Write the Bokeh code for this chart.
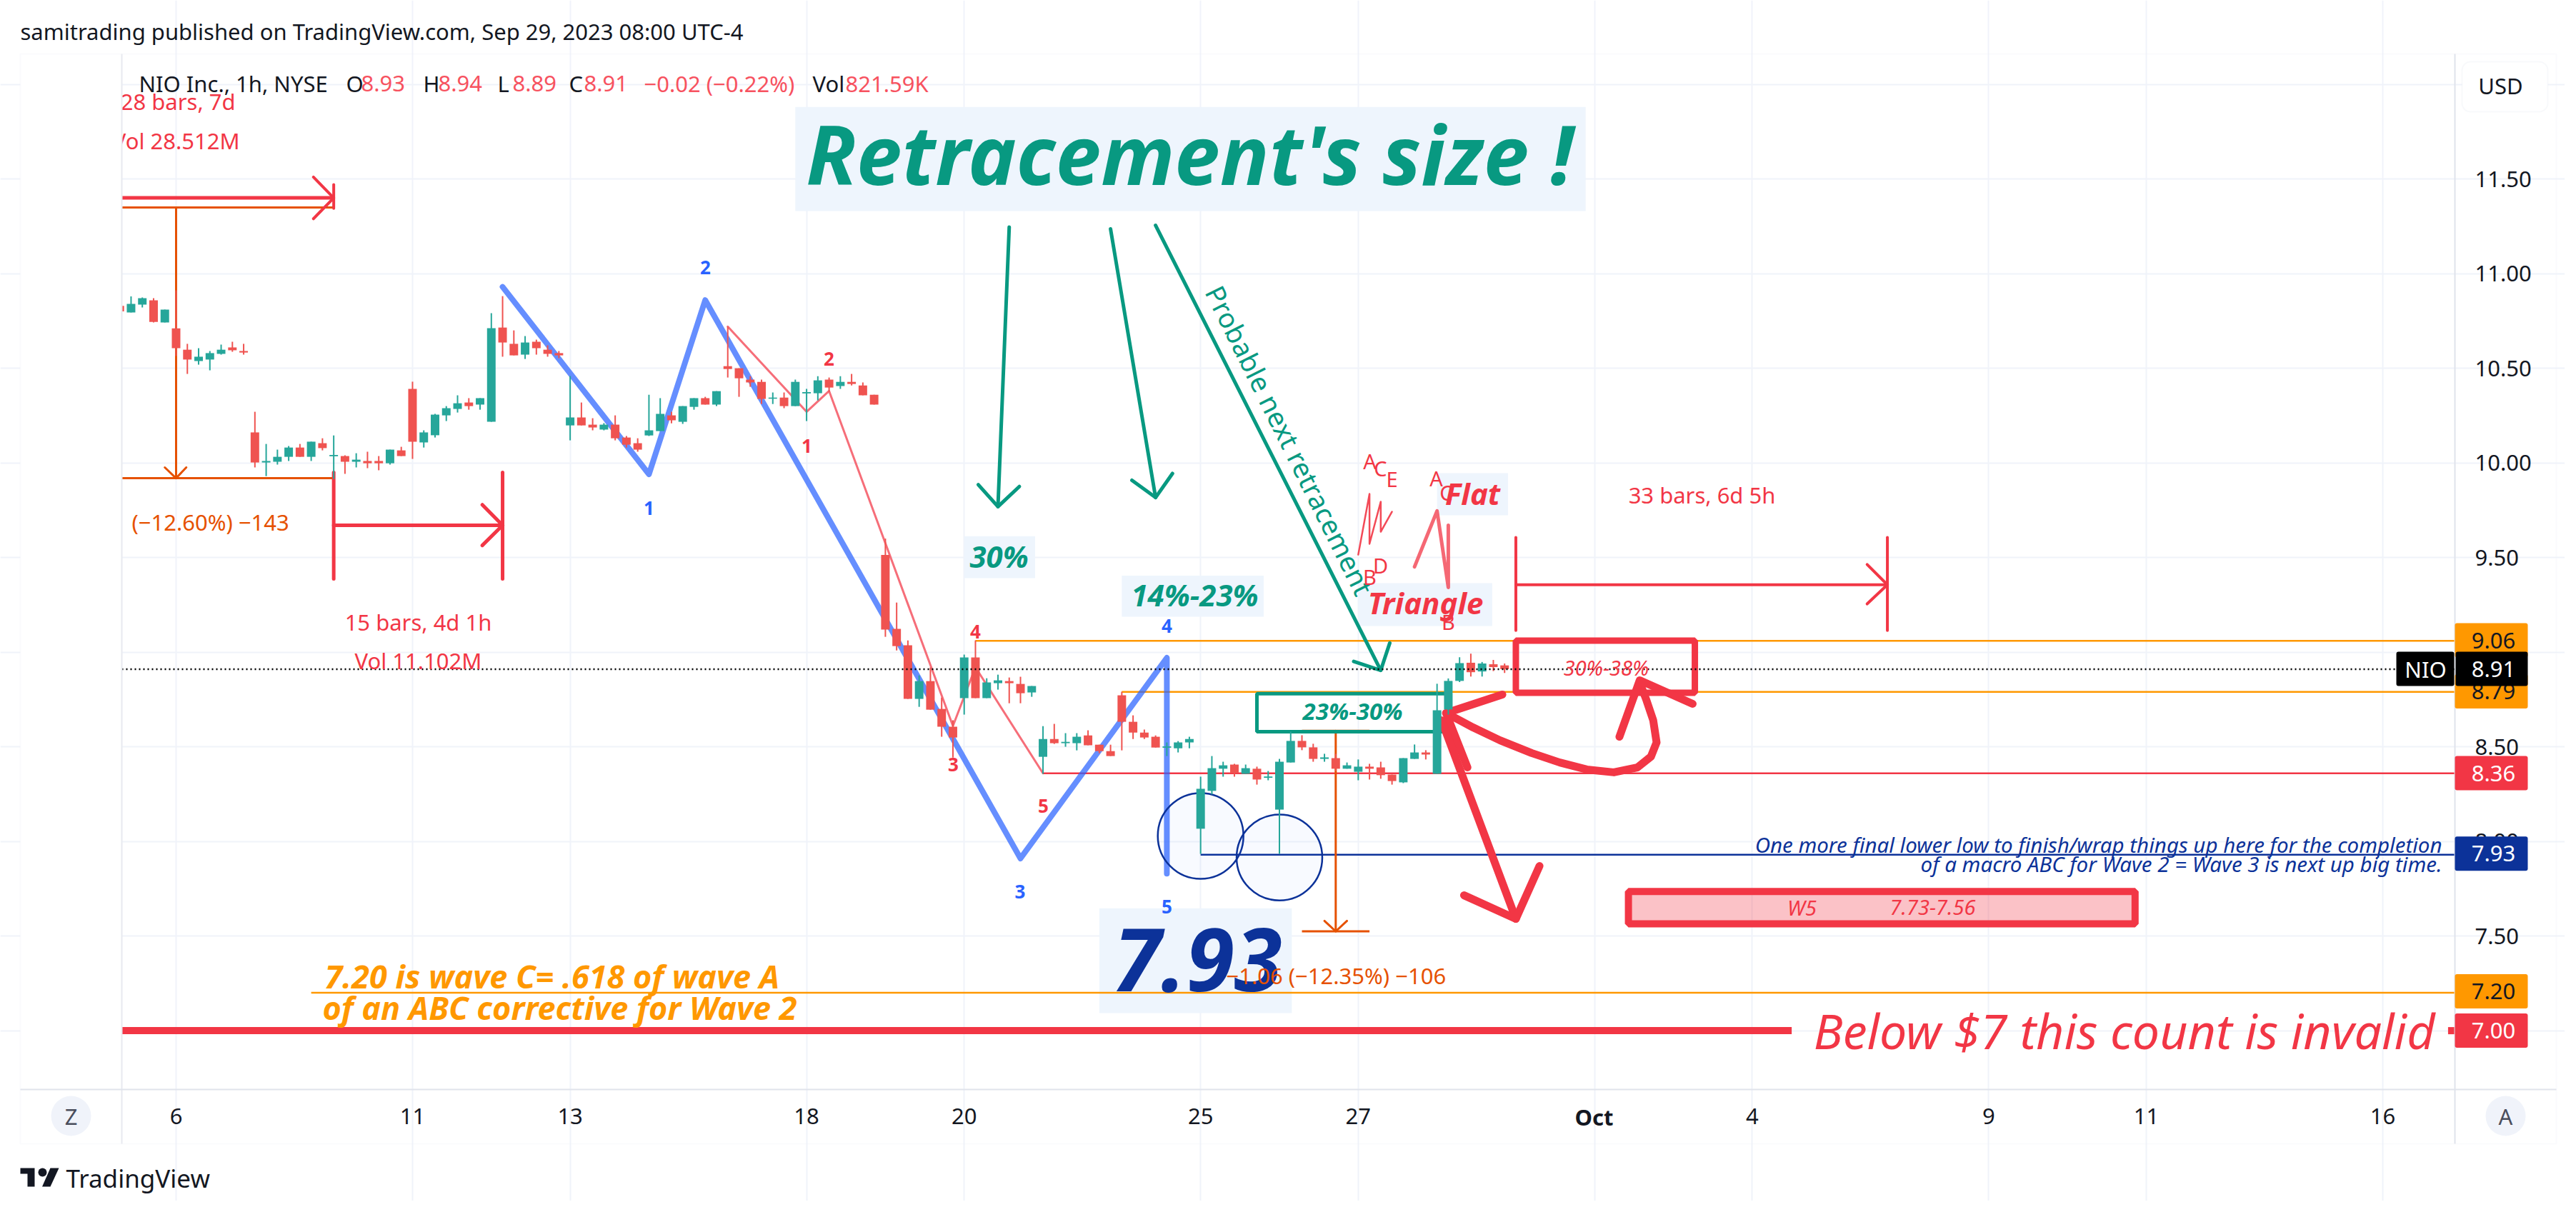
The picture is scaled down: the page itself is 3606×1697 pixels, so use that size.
from bokeh.core.properties import value
from bokeh.embed import file_html
from bokeh.models import BoxAnnotation, FixedTicker, Label, PolyAnnotation, Range1d
from bokeh.plotting import figure
from bokeh.resources import INLINE

# ─── candles (1h bars, x is the bar number counted from the Sep 6 tick) ─────
first_bar = -5
bar_open = [
    10.83, 10.795, 10.836, 10.859, 10.742, 10.711, 10.598, 10.538, 10.546, 10.576, 10.61, 10.591,
    10.161, 10.002, 10.006, 10.032, 10.081, 10.032, 10.104, 10.035, 10.036, 10.006, 10.01, 10.01,
    9.998, 10.066, 10.391, 10.108, 10.146, 10.251, 10.285, 10.319, 10.308, 10.217, 10.715, 10.629,
    10.572, 10.64, 10.598, 10.58, 10.198, 10.24, 10.202, 10.176, 10.202, 10.134, 10.104, 10.145,
    10.168, 10.251, 10.217, 10.296, 10.342, 10.308, 10.511, 10.5, 10.44, 10.428, 10.339, 10.345,
    10.3, 10.367, 10.368, 10.44, 10.406, 10.428, 10.409, 10.36, 9.514, 9.123, 9.036, 8.753,
    8.847, 8.7, 8.606, 8.757, 8.972, 8.757, 8.836, 8.847, 8.832, 8.787, 8.447, 8.541,
    8.519, 8.519, 8.56, 8.511, 8.477, 8.772, 8.632, 8.575, 8.553, 8.495, 8.492, 8.523,
    8.067, 8.267, 8.384, 8.406, 8.357, 8.384, 8.336, 8.168, 8.417, 8.531, 8.497, 8.436,
    8.44, 8.384, 8.368, 8.395, 8.391, 8.353, 8.312, 8.436, 8.47, 8.357, 8.697, 8.848,
    8.944, 8.898, 8.936, 8.93,
]
bar_close = [
    10.80, 10.84, 10.87, 10.745, 10.81, 10.606, 10.546, 10.561, 10.58, 10.598, 10.595, 10.583,
    10.002, 10.01, 10.032, 10.081, 10.032, 10.112, 10.078, 10.042, 10.006, 10.017, 9.998, 9.998,
    10.07, 10.036, 10.112, 10.161, 10.255, 10.289, 10.315, 10.30, 10.342, 10.712, 10.636, 10.568,
    10.636, 10.606, 10.576, 10.568, 10.24, 10.198, 10.187, 10.202, 10.13, 10.096, 10.07, 10.172,
    10.259, 10.225, 10.30, 10.342, 10.308, 10.379, 10.496, 10.447, 10.425, 10.338, 10.345, 10.30,
    10.428, 10.374, 10.436, 10.398, 10.428, 10.417, 10.357, 10.308, 9.119, 9.032, 8.753, 8.847,
    8.696, 8.606, 8.549, 8.972, 8.757, 8.84, 8.851, 8.836, 8.783, 8.821, 8.541, 8.519,
    8.526, 8.553, 8.508, 8.477, 8.451, 8.632, 8.575, 8.549, 8.496, 8.502, 8.523, 8.541,
    8.278, 8.387, 8.402, 8.361, 8.387, 8.327, 8.343, 8.421, 8.531, 8.497, 8.436, 8.444,
    8.384, 8.402, 8.395, 8.384, 8.35, 8.319, 8.44, 8.47, 8.459, 8.693, 8.848, 8.942,
    8.894, 8.94, 8.921, 8.91,
]
bar_high = [
    10.83, 10.88, 10.874, 10.87, 10.81, 10.912, 10.629, 10.606, 10.591, 10.625, 10.64, 10.629,
    10.27, 10.10, 10.07, 10.089, 10.10, 10.112, 10.13, 10.145, 10.04, 10.051, 10.059, 10.036,
    10.07, 10.085, 10.429, 10.172, 10.259, 10.30, 10.357, 10.342, 10.342, 10.791, 10.881, 10.70,
    10.67, 10.651, 10.621, 10.591, 10.459, 10.319, 10.236, 10.21, 10.251, 10.142, 10.13, 10.36,
    10.342, 10.27, 10.30, 10.342, 10.349, 10.379, 10.719, 10.50, 10.458, 10.44, 10.372, 10.372,
    10.44, 10.391, 10.458, 10.451, 10.458, 10.47, 10.425, 10.36, 9.60, 9.262, 9.062, 8.877,
    8.919, 8.76, 8.64, 8.987, 9.062, 8.862, 8.881, 8.866, 8.87, 8.821, 8.609, 8.621,
    8.572, 8.572, 8.587, 8.511, 8.511, 8.791, 8.666, 8.591, 8.56, 8.523, 8.53, 8.553,
    8.342, 8.451, 8.421, 8.41, 8.406, 8.395, 8.372, 8.436, 8.58, 8.561, 8.516, 8.463,
    8.463, 8.417, 8.433, 8.41, 8.421, 8.353, 8.44, 8.512, 8.482, 8.833, 8.861, 8.973,
    8.992, 8.948, 8.959, 8.94,
]
bar_low = [
    10.80, 10.795, 10.821, 10.742, 10.742, 10.565, 10.47, 10.519, 10.489, 10.572, 10.587, 10.572,
    9.976, 9.93, 9.991, 10.01, 10.032, 10.01, 10.066, 9.915, 9.942, 9.976, 9.972, 9.961,
    9.991, 10.036, 10.021, 10.081, 10.134, 10.221, 10.266, 10.281, 10.281, 10.217, 10.561, 10.568,
    10.549, 10.572, 10.561, 10.553, 10.119, 10.198, 10.172, 10.172, 10.119, 10.081, 10.059, 10.142,
    10.168, 10.209, 10.206, 10.281, 10.308, 10.30, 10.451, 10.349, 10.402, 10.311, 10.311, 10.289,
    10.30, 10.221, 10.33, 10.375, 10.391, 10.409, 10.357, 10.308, 9.081, 9.009, 8.753, 8.711,
    8.696, 8.553, 8.443, 8.67, 8.757, 8.757, 8.802, 8.73, 8.73, 8.764, 8.357, 8.515,
    8.50, 8.481, 8.508, 8.466, 8.451, 8.481, 8.541, 8.541, 8.496, 8.451, 8.47, 8.492,
    7.934, 8.248, 8.342, 8.342, 8.357, 8.30, 8.323, 7.934, 8.417, 8.482, 8.421, 8.421,
    8.372, 8.384, 8.323, 8.327, 8.331, 8.30, 8.308, 8.436, 8.433, 8.357, 8.67, 8.842,
    8.871, 8.871, 8.90, 8.89,
]

# ─── axes ───────────────────────────────────────────────────────────────────
time_ticks = [0, 21, 35, 56, 70, 91, 105, 126, 140, 161, 175, 196]
time_labels = ["6", "11", "13", "18", "20", "25", "27", "", "4", "9", "11", "16"]
price_ticks = [7.0, 7.5, 8.0, 8.5, 9.0, 9.5, 10.0, 10.5, 11.0, 11.5, 12.0]
price_labels = ["7.00", "7.50", "8.00", "8.50", "9.00", "9.50", "10.00", "10.50", "11.00", "11.50", ""]

# ─── drawings, as (bar, price) anchors ──────────────────────────────────────
blue_wave_x = [29, 42, 47, 75, 88, 88]
blue_wave_y = [10.93, 9.94, 10.86, 7.91, 8.97, 7.83]
red_wave_x = [49, 56, 58, 69, 71, 77]
red_wave_y = [10.72, 10.27, 10.38, 8.61, 8.92, 8.36]
triangle_x = [105, 106, 106, 107, 107, 108]
triangle_y = [9.515, 9.836, 9.572, 9.795, 9.636, 9.742]
flat_x = [110, 112, 113, 113]
flat_y = [9.451, 9.746, 9.342, 9.67]
curve_x = [112.8, 115.2, 117.6, 120.4, 122.9, 125.3, 127.7, 129.8, 131, 131.5, 131.2, 130.6, 130]
curve_y = [8.678, 8.602, 8.534, 8.467, 8.417, 8.38, 8.365, 8.391, 8.448, 8.523, 8.64, 8.746, 8.84]

RED, TEAL, GREEN = "#ef5350", "#26a69a", "#089981"
DRAW_RED, ORANGE, NAVY = "#f23645", "#ff9800", "#0c3299"
MEASURE, INK, PALE = "#e65100", "#131722", "#eef5fd"

W, H = 3590, 1681
# page pixels of the chart pane, the price scale and the time scale
FRAME_L, FRAME_R, FRAME_T, FRAME_B = 170, 3436, 75, 1525
OUTER_L, OUTER_R, OUTER_B = 28, 3578, 1601
# the same pane edges on the bar and price scales
BAR_L, BAR_R, PRICE_B, PRICE_T = -4.822, 202.41, 6.6883, 12.1608

# the frame fills the whole canvas so the scales and badges can be drawn anywhere
p = figure(
    width=W, height=H, output_backend="svg", toolbar_location=None, tools="",
    x_range=Range1d(-15.609, 212.18), y_range=Range1d(6.1004, 12.4438),
    y_axis_location="right",
    min_border_left=0, min_border_right=0, min_border_top=0, min_border_bottom=0,
)
p.outline_line_color = None
p.background_fill_color = "white"
p.border_fill_color = "white"

for ax, ticks, labels in ((p.xaxis[0], time_ticks, time_labels), (p.yaxis[0], price_ticks, price_labels)):
    ax.ticker = FixedTicker(ticks=ticks)
    ax.major_label_overrides = dict(zip(ticks, labels))
    ax.axis_line_color = None
    ax.major_tick_line_color = None
    ax.minor_tick_line_color = None
    ax.major_label_text_font = "Noto Sans"
    ax.major_label_text_font_size = "31px"
    ax.major_label_text_color = INK
p.xaxis[0].fixed_location = PRICE_B
p.yaxis[0].fixed_location = BAR_R
p.xaxis[0].major_label_standoff = 20
p.yaxis[0].major_label_standoff = 22

for g in (p.xgrid[0], p.ygrid[0]):
    g.grid_line_color = "#f0f3fa"
    g.grid_line_width = 2
p.xgrid[0].ticker = FixedTicker(ticks=time_ticks)
p.ygrid[0].ticker = FixedTicker(ticks=price_ticks)
p.xgrid[0].bounds = (PRICE_B, PRICE_T)
p.ygrid[0].bounds = (BAR_L, BAR_R)


def stroke(xs, ys, color, width, alpha=1.0, dash="solid"):
    p.line(xs, ys, line_color=color, line_width=width, line_alpha=alpha, line_cap="round",
           line_join="round", line_dash=dash)


def flat_line(x0, x1, price, color, width):
    p.line([x0, x1], [price, price], line_color=color, line_width=width)


def panel(left, right, bottom, top, color=PALE):
    p.quad(left=[left], right=[right], bottom=[bottom], top=[top], fill_color=color, line_color=None)


# text backgrounds
panel(55.0, 125.2, 11.331, 11.881)
panel(70, 76.3, 9.391, 9.613)
panel(84, 96.6, 9.187, 9.404)
panel(105, 116.9, 9.138, 9.365)
panel(112, 118.3, 9.723, 9.946)
panel(82, 99.1, 7.093, 7.647)

# level lines
flat_line(71, BAR_R, 9.06, ORANGE, 2.5)
flat_line(84, BAR_R, 8.79, ORANGE, 2.5)
flat_line(77, BAR_R, 8.36, DRAW_RED, 2.5)
flat_line(91, BAR_R, 7.93, NAVY, 2.5)
flat_line(12, BAR_R, 7.20, ORANGE, 2.5)
flat_line(BAR_L, 143.5, 7.0, DRAW_RED, 10)
flat_line(201.8, BAR_R, 7.0, DRAW_RED, 10)

# elliott waves
stroke(blue_wave_x, blue_wave_y, "#2962ff", 8, 0.72)
stroke(red_wave_x, red_wave_y, DRAW_RED, 3, 0.72)

# price range tool on the left
flat_line(BAR_L, 14, 11.349, MEASURE, 3)
flat_line(BAR_L, 14, 9.919, MEASURE, 3)
stroke([0, 0], [11.349, 9.919], MEASURE, 3)
stroke([-1, 0, 0.9], [9.976, 9.919, 9.976], MEASURE, 3)

# date range tool, top left
flat_line(BAR_L, 14, 11.40, DRAW_RED, 5)
stroke([14, 14], [11.47, 11.345], DRAW_RED, 4)
stroke([12.2, 14, 12.2], [11.51, 11.40, 11.29], DRAW_RED, 4)

# date range tool, 15 bars
stroke([14, 14], [9.949, 9.387], DRAW_RED, 5)
stroke([29, 29], [9.949, 9.387], DRAW_RED, 5)
stroke([14, 29], [9.67, 9.67], DRAW_RED, 5)
stroke([27.2, 29, 27.2], [9.779, 9.67, 9.564], DRAW_RED, 5)

# date range tool, 33 bars
stroke([119, 119], [9.606, 9.115], DRAW_RED, 4)
stroke([152, 152], [9.606, 9.115], DRAW_RED, 4)
stroke([119, 152], [9.356, 9.356], DRAW_RED, 4)
stroke([150.2, 152, 150.2], [9.463, 9.356, 9.255], DRAW_RED, 4)

# price range tool at the bottom
flat_line(100, 106, 8.584, MEASURE, 3)
flat_line(100, 106, 7.525, MEASURE, 3)
stroke([103, 103], [8.584, 7.525], MEASURE, 3)
stroke([102, 103, 104], [7.58, 7.525, 7.58], MEASURE, 3)

# green retracement arrows
stroke([74, 73], [11.246, 9.769], GREEN, 5)
stroke([71.25, 73, 74.9], [9.885, 9.769, 9.875], GREEN, 5)
stroke([83, 87], [11.236, 9.817], GREEN, 5)
stroke([84.9, 87, 88.5], [9.908, 9.817, 9.944], GREEN, 5)
stroke([87, 107], [11.255, 8.904], GREEN, 5)
stroke([104.6, 107, 107.8], [8.951, 8.904, 9.048], GREEN, 5)

# retracement boxes
p.quad(left=[96], right=[113.2], bottom=[8.58], top=[8.781], fill_color=None,
       line_color=GREEN, line_width=5)
p.quad(left=[119], right=[134.9], bottom=[8.785], top=[9.061], fill_color=None,
       line_color=DRAW_RED, line_width=9)
p.quad(left=[129], right=[174], bottom=[7.565], top=[7.735], fill_color=DRAW_RED, fill_alpha=0.3,
       line_color=DRAW_RED, line_width=10)

# circles on the two lows
p.ellipse(x=[91, 98], y=[8.029, 7.915], width=7.61, height=0.453, fill_color="#2962ff", fill_alpha=0.03,
          line_color=NAVY, line_width=2.5)

# hand drawn zigzags and arrows
stroke(triangle_x, triangle_y, DRAW_RED, 2.5, 0.9)
stroke(flat_x, flat_y, DRAW_RED, 5, 0.75)
stroke(curve_x, curve_y, DRAW_RED, 11)
stroke([117.8, 112.8, 114.7], [8.776, 8.678, 8.391], DRAW_RED, 11)
stroke([128.2, 130, 134.7], [8.553, 8.851, 8.727], DRAW_RED, 11)
stroke([112.4, 119], [8.64, 7.591], DRAW_RED, 11)
stroke([114.4, 119, 121.1], [7.715, 7.591, 7.87], DRAW_RED, 11)

# candles sit over the drawings
bar_x = [first_bar + i for i in range(len(bar_open))]
bar_colors = [TEAL if c >= o else RED for o, c in zip(bar_open, bar_close)]
p.segment(bar_x, bar_low, bar_x, bar_high, line_color=bar_colors, line_width=2)
p.vbar(x=bar_x, bottom=bar_open, top=bar_close, width=0.76, fill_color=bar_colors, line_color=None)

# last price line
p.line([BAR_L, BAR_R], [8.91, 8.91], line_color="black", line_width=2.5, line_dash="2 4", level="annotation")

# these two run off the left of the pane, the white strip below hides the overhang
p.text([5.27, 5.65], [11.908, 11.704], text=["28 bars, 7d", "Vol 28.512M"], text_color=DRAW_RED,
       text_font_size="31px", text_align="right", text_baseline="middle", text_font=value("Noto Sans"))


def txt(px, py, s, color=INK, size=31, align="center", style="normal", angle=0.0, level="annotation"):
    p.add_layout(Label(x=px, y=H - py, x_units="screen", y_units="screen", text=s,
                       text_color=color, text_font="Noto Sans", text_font_size=f"{size}px",
                       text_font_style=style, text_align=align, text_baseline="middle",
                       angle=angle, level=level))


def chrome(l, t, r, b, fill, line=None, radius=0):
    p.add_layout(BoxAnnotation(left=l, right=r, top=H - t, bottom=H - b,
                               left_units="screen", right_units="screen", top_units="screen",
                               bottom_units="screen", fill_color=fill, fill_alpha=1 if fill else 0,
                               line_color=line, line_width=2 if line else 0, border_radius=radius,
                               level="overlay", editable=False))


# frame and scales
chrome(OUTER_L, FRAME_T, FRAME_L, FRAME_B, "white")
chrome(OUTER_L, FRAME_T, OUTER_R, OUTER_B, None, "#f0f3fa")
chrome(FRAME_L - 1, FRAME_T, FRAME_L + 1, OUTER_B, "#e8eaf0")
chrome(FRAME_R - 1, FRAME_T, FRAME_R + 1, OUTER_B, "#e0e3eb")
chrome(OUTER_L, FRAME_B - 1, OUTER_R, FRAME_B + 1, "#e0e3eb")
chrome(3446, 86, 3566, 156, "white", "#e9ecf2", 12)
txt(3500, 119, "USD", level="overlay")
chrome(71, 1534, 127, 1590, "#f0f3fa", None, 28)
txt(99, 1562, "Z", "#4a4e5c", level="overlay")
chrome(3479, 1534, 3535, 1590, "#f0f3fa", None, 28)
txt(3507, 1562, "A", "#4a4e5c", level="overlay")
txt(2231, 1563, "Oct", style="bold", level="overlay")

# price badges
for price_y, s, fill, fg in (
    (896, "9.06", ORANGE, INK), (967.6, "8.79", ORANGE, INK), (1082, "8.36", DRAW_RED, "white"),
    (1194.7, "7.93", NAVY, "white"), (1387.5, "7.20", ORANGE, INK), (1442.6, "7.00", DRAW_RED, "white"),
):
    chrome(FRAME_R, price_y - 24, 3538, price_y + 24, fill, None, 3)
    txt(3490, price_y, s, fg, level="overlay")
chrome(3354, 912, FRAME_R - 1, 960, "black", None, 3)
chrome(FRAME_R + 1, 912, 3538, 960, "black", None, 3)
txt(3395, 936, "NIO", "white", level="overlay")
txt(3490, 936, "8.91", "white", level="overlay")

# header
txt(28, 43, "samitrading published on TradingView.com, Sep 29, 2023 08:00 UTC-4", align="left")
txt(194, 116, "NIO Inc., 1h, NYSE", align="left", level="overlay")
VAL = "#f7525f"
for px, head, val in ((484, "O", "8.93"), (592, "H", "8.94"), (696, "L", "8.89"), (796, "C", "8.91")):
    txt(px, 116, head, align="left")
    txt(px + 21, 116, val, VAL, align="left")
txt(901, 116, "\u22120.02 (\u22120.22%)", VAL, align="left")
txt(1137, 116, "Vol", align="left")
txt(1183, 116, "821.59K", VAL, align="left")

# footer logo
for xs, ys in (([28, 48, 48, 38, 38, 28], [1635, 1635, 1661, 1661, 1643, 1643]),
               ([70, 82, 70, 58.5], [1635, 1635, 1661, 1661])):
    p.add_layout(PolyAnnotation(xs=xs, ys=[H - y for y in ys],
                                xs_units="screen", ys_units="screen", fill_color=INK, fill_alpha=1,
                                line_color=None, level="overlay", editable=False))
chrome(53, 1635, 65, 1647, INK, None, 6)
txt(92, 1649, "TradingView", size=35, align="left")

# chart annotations
txt(1665, 214, "Retracement's size !", GREEN, 114, style="bold italic")
txt(1398, 778, "30%", GREEN, 42, style="bold italic")
txt(1672, 832, "14%-23%", GREEN, 42, style="bold italic")
txt(1893, 995, "23%-30%", GREEN, 33, style="bold italic")
txt(1995, 843, "Triangle", DRAW_RED, 42, style="bold italic")
txt(2061, 690, "Flat", DRAW_RED, 42, style="bold italic")
txt(2248, 934, "30%-38%", DRAW_RED, 29, style="italic")
txt(1676, 1343, "7.93", NAVY, 122, style="bold italic")
txt(2522, 1270, "W5", DRAW_RED, 29, style="italic")
txt(2705, 1270, "7.73-7.56", DRAW_RED, 29, style="italic")
txt(1805, 616, "Probable next retracement", GREEN, 38, angle=-1.11)
txt(454, 1366, "7.20 is wave C= .618 of wave A", ORANGE, 45, "left", "bold italic")
txt(451, 1410, "of an ABC corrective for Wave 2", ORANGE, 45, "left", "bold italic")
txt(3408, 1442, "Below $7 this count is invalid", DRAW_RED, 68, "right", "italic")
txt(3418, 1182, "One more final lower low to finish/wrap things up here for the completion", NAVY, 29.5, "right", "italic")
txt(3418, 1209, "of a macro ABC for Wave 2 = Wave 3 is next up big time.", NAVY, 29.5, "right", "italic")
txt(585, 870, "15 bars, 4d 1h", DRAW_RED)
txt(585, 924, "Vol 11.102M", DRAW_RED)
txt(2382, 692, "33 bars, 6d 5h", DRAW_RED)
txt(184, 730, "(\u221212.60%) \u2212143", MEASURE, align="left")
txt(1716, 1365, "\u22121.06 (\u221212.35%) \u2212106", MEASURE, align="left")

for px, py, s in ((1129, 624, "1"), (1160, 502, "2"), (1334, 1070, "3"), (1365, 884, "4"), (1460, 1128, "5")):
    txt(px, py, s, DRAW_RED, 26, style="bold")
for px, py, s in ((908, 711, "1"), (987, 374, "2"), (1427.5, 1248, "3"), (1633, 876, "4"), (1633, 1269, "5")):
    txt(px, py, s, "#2962ff", 26, style="bold")
for px, py, s in ((1917, 645, "A"), (1932, 655, "C"), (1948, 670, "E"), (1917, 807, "B"), (1932, 791, "D"),
                  (2010, 669, "A"), (2024, 689, "C"), (2027, 870, "B")):
    txt(px, py, s, DRAW_RED, 29)

open("out.html", "w").write(file_html(p, INLINE))
